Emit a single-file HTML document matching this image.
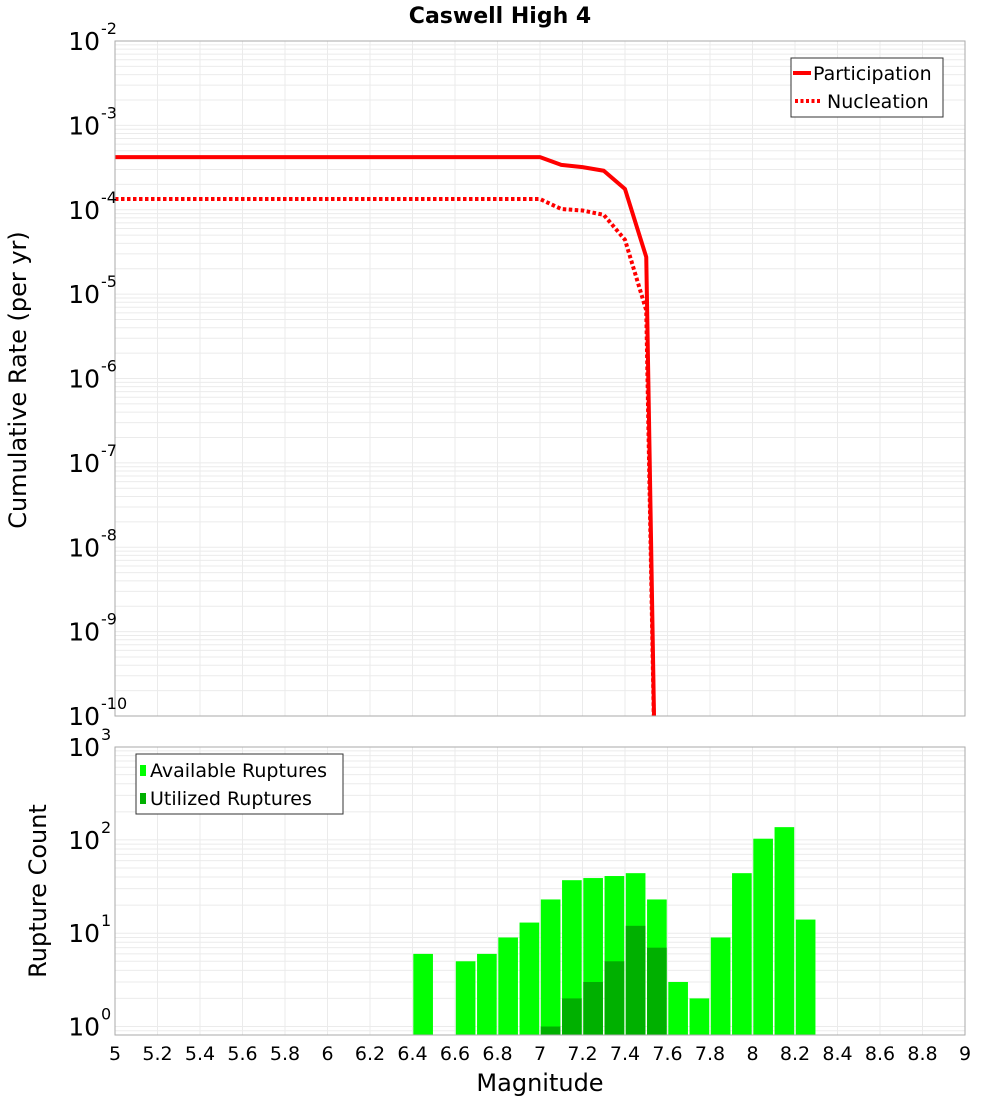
<!DOCTYPE html>
<html><head><meta charset="utf-8"><style>
html,body{margin:0;padding:0;background:#fff;}
svg{display:block;font-family:"DejaVu Sans","Liberation Sans",sans-serif;}
</style></head><body>
<svg id="chart" width="1000" height="1100" viewBox="0 0 1000 1100" xmlns="http://www.w3.org/2000/svg">
<text x="500" y="23" text-anchor="middle" font-size="22" font-weight="bold">Caswell High 4</text>
<g id="top"></g>
<g id="bot"></g>
<text transform="translate(26,380) rotate(-90)" text-anchor="middle" font-size="24">Cumulative Rate (per yr)</text>
<text transform="translate(46,891) rotate(-90)" text-anchor="middle" font-size="24">Rupture Count</text>
<text x="540" y="1091" text-anchor="middle" font-size="24">Magnitude</text>
</svg>
<script>
const partMags=[5.0,5.5,6.0,6.5,7.0,7.1,7.2,7.3,7.4,7.5,7.55];
const partRates=[4.2e-4,4.2e-4,4.2e-4,4.2e-4,4.2e-4,3.4e-4,3.2e-4,2.9e-4,1.76e-4,2.75e-5,1e-12];
const nuclMags=[5.0,5.5,6.0,6.5,7.0,7.1,7.2,7.3,7.4,7.5,7.55];
const nuclRates=[1.34e-4,1.34e-4,1.34e-4,1.34e-4,1.34e-4,1.02e-4,9.8e-5,8.7e-5,4.4e-5,6.4e-6,1e-12];
const binMags=[6.4,6.6,6.7,6.8,6.9,7.0,7.1,7.2,7.3,7.4,7.5,7.6,7.7,7.8,7.9,8.0,8.1,8.2];
const availCounts=[6,5,6,9,13,23,37,39,41,44,23,3,2,9,44,103,137,14];
const utilMags=[7.0,7.1,7.2,7.3,7.4,7.5];
const utilCounts=[1,2,3,5,12,7];
const xTicks=[5,5.2,5.4,5.6,5.8,6,6.2,6.4,6.6,6.8,7,7.2,7.4,7.6,7.8,8,8.2,8.4,8.6,8.8,9];
const topExps=[-2,-3,-4,-5,-6,-7,-8,-9,-10];
const botExps=[0,1,2,3];

const NS='http://www.w3.org/2000/svg';
const L=115,R=965;
const X=m=>L+(m-5)*(R-L)/4;
const T0=41,T1=716,TD=(T1-T0)/8;
const Yt=v=>T0+(-2-Math.log10(v))*TD;
const B0=747,B1=1035,BD=93.3,BY1=1026.5;
const Yb=v=>BY1-Math.log10(v)*BD;
function mk(p,tag,a){const e=document.createElementNS(NS,tag);for(const k in a)e.setAttribute(k,a[k]);p.appendChild(e);return e;}
const gTop=document.getElementById('top'),gBot=document.getElementById('bot');
const defs=mk(document.getElementById('chart'),'defs',{});
const c1=mk(defs,'clipPath',{id:'ct'});mk(c1,'rect',{x:L,y:T0,width:R-L,height:T1-T0});
const c2=mk(defs,'clipPath',{id:'cb'});mk(c2,'rect',{x:L,y:B0,width:R-L,height:B1-B0});

for(let e=-10;e<-2;e++){for(let k=1;k<10;k++){const y=Yt(k*Math.pow(10,e));if(y<T0||y>T1)continue;
const g=mk(gTop,'line',{x1:L,x2:R,y1:y,y2:y,stroke:'#ebebeb','stroke-width':1});

}}
for(let e=-1;e<3;e++){for(let k=1;k<10;k++){const y=Yb(k*Math.pow(10,e));if(y<B0||y>B1)continue;
const g=mk(gBot,'line',{x1:L,x2:R,y1:y,y2:y,stroke:'#ebebeb','stroke-width':1});

}}
xTicks.forEach(t=>{const x=X(t);
const g1=mk(gTop,'line',{x1:x,x2:x,y1:T0,y2:T1,stroke:'#ebebeb'});


const g2=mk(gBot,'line',{x1:x,x2:x,y1:B0,y2:B1,stroke:'#ebebeb'});


const tl=mk(gBot,'text',{x:x,y:1060,'text-anchor':'middle','font-size':19});tl.textContent=String(t);

});

const pts=(ms,vs)=>ms.map((m,i)=>X(m)+','+Yt(vs[i])).join(' ');
const pl=mk(gTop,'polyline',{points:pts(partMags,partRates),fill:'none',stroke:'#ff0000','stroke-width':4,'clip-path':'url(#ct)','stroke-linejoin':'round'});


const nl=mk(gTop,'polyline',{points:pts(nuclMags,nuclRates),fill:'none',stroke:'#ff0000','stroke-width':4,'stroke-dasharray':'3.5,2.5','clip-path':'url(#ct)'});


const tf=mk(gTop,'rect',{x:L,y:T0,width:R-L,height:T1-T0,fill:'none',stroke:'#aaa'});



const bw=(R-L)/40;
binMags.forEach((m,i)=>{const y=Yb(availCounts[i]);
const r=mk(gBot,'rect',{x:X(m)+0.8,y:y,width:bw-1.6,height:B1-y,fill:'#00ff00','clip-path':'url(#cb)'});

});
utilMags.forEach((m,i)=>{const y=Yb(utilCounts[i]);
const r=mk(gBot,'rect',{x:X(m)+0.8,y:y,width:bw-1.6,height:B1-y,fill:'#00b000','clip-path':'url(#cb)'});

});
const bf=mk(gBot,'rect',{x:L,y:B0,width:R-L,height:B1-B0,fill:'none',stroke:'#aaa'});



function pow(parent,y,e){const t=mk(parent,'text',{x:100,y:y+9,'text-anchor':'end','font-size':25});t.textContent='10';


const s=mk(parent,'text',{x:101,y:y-7,'font-size':16});s.textContent=String(e);

}
topExps.forEach(e=>pow(gTop,Yt(Math.pow(10,e)),e));
botExps.forEach(e=>pow(gBot,Math.max(Yb(Math.pow(10,e)),B0),e));

const lg=mk(gTop,'g',{});


mk(lg,'rect',{x:791,y:58,width:152,height:59,fill:'#fff',stroke:'#333'});
mk(lg,'line',{x1:793,x2:811,y1:73,y2:73,stroke:'#f00','stroke-width':4});
mk(lg,'line',{x1:795,x2:820,y1:101,y2:101,stroke:'#f00','stroke-width':4,'stroke-dasharray':'3,2.5'});
const lt1=mk(lg,'text',{x:813,y:80,'font-size':19});lt1.textContent='Participation';


const lt2=mk(lg,'text',{x:827,y:108,'font-size':19});lt2.textContent='Nucleation';


const lb=mk(gBot,'g',{});


mk(lb,'rect',{x:136,y:754,width:207,height:60,fill:'#fff',stroke:'#333'});
mk(lb,'rect',{x:140,y:765,width:6,height:11,fill:'#00ff00'});
mk(lb,'rect',{x:140,y:793,width:6,height:11,fill:'#00b000'});
const lb1=mk(lb,'text',{x:150,y:777,'font-size':19});lb1.textContent='Available Ruptures';


const lb2=mk(lb,'text',{x:150,y:805,'font-size':19});lb2.textContent='Utilized Ruptures';


</script>
</body></html>
